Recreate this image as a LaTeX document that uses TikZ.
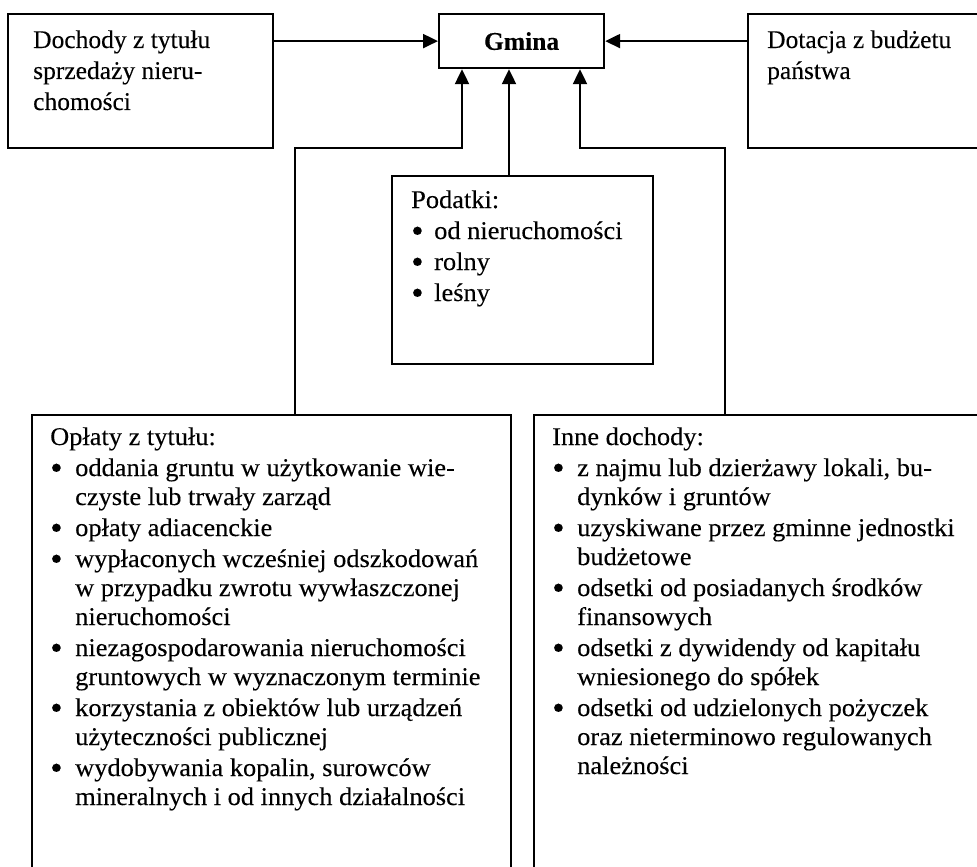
\documentclass[tikz,border=0pt]{standalone}
\usepackage{fontspec}
\setmainfont{Liberation Serif}[FakeBold=0.15]
\newfontfamily\widefont{Liberation Serif}[FakeStretch=1.035,FakeBold=0.15]
\usetikzlibrary{arrows.meta}
\newcommand{\mytb}[2]{\parbox[t]{600pt}{\fontsize{25.5pt}{#1}\selectfont\raggedright #2}}
\newcommand{\mywb}[2]{\parbox[t]{600pt}{\widefont\fontsize{25.5pt}{#1}\selectfont\raggedright #2}}
\newcommand{\mybul}[1]{\makebox[#1][l]{\raisebox{-3.2pt}{\scalebox{1.35}{•}}}}
\begin{document}
\begin{tikzpicture}[x=1pt,y=1pt,
  box/.style={draw, line width=2.2pt, inner sep=0pt, anchor=north west},
  txt/.style={inner sep=0pt, anchor=base west},
  arr/.style={line width=2.2pt, -{Triangle[length=15pt,width=14pt]}}]
\clip (0,0) rectangle (977,-867);
% boxes
\node[box, minimum width=265pt, minimum height=134pt] (L) at (7,-13) {};
\node[box, minimum width=165pt, minimum height=54pt, font=\fontsize{25.5pt}{29pt}\selectfont\bfseries] (G) at (438,-13) {Gmina};
\node[box, minimum width=260pt, minimum height=134pt] (R) at (747,-13) {};
\node[box, minimum width=261pt, minimum height=188pt] (P) at (391,-175) {};
\node[box, minimum width=479pt, minimum height=500pt] (BL) at (31,-414) {};
\node[box, minimum width=470pt, minimum height=500pt] (BR) at (533,-414) {};
% texts
\node[txt] (Lt) at (33,-48) {\mytb{31pt}{Dochody z tytułu\\sprzedaży nieru-\\chomości}};
\node[txt] (Rt) at (767,-48) {\mytb{31pt}{Dotacja z budżetu\\państwa}};
\node[txt] (Pt) at (411,-208) {\mywb{29pt}{Podatki:\\[2pt]
\mybul{23pt}od nieruchomości\\[2pt]
\mybul{23pt}rolny\\[2pt]
\mybul{23pt}leśny}};
\node[txt] (BLt) at (50,-445) {\mywb{29pt}{Opłaty z tytułu:\\[2pt]
\mybul{25pt}oddania gruntu w użytkowanie wie-\\
\hspace*{25pt}czyste lub trwały zarząd\\[2pt]
\mybul{25pt}opłaty adiacenckie\\[2pt]
\mybul{25pt}wypłaconych wcześniej odszkodowań\\
\hspace*{25pt}w przypadku zwrotu wywłaszczonej\\
\hspace*{25pt}nieruchomości\\[2pt]
\mybul{25pt}niezagospodarowania nieruchomości\\
\hspace*{25pt}gruntowych w wyznaczonym terminie\\[2pt]
\mybul{25pt}korzystania z obiektów lub urządzeń\\
\hspace*{25pt}użyteczności publicznej\\[2pt]
\mybul{25pt}wydobywania kopalin, surowców\\
\hspace*{25pt}mineralnych i od innych działalności}};
\node[txt] (BRt) at (552,-445) {\mywb{29pt}{Inne dochody:\\[2pt]
\mybul{25pt}z najmu lub dzierżawy lokali, bu-\\
\hspace*{25pt}dynków i gruntów\\[2pt]
\mybul{25pt}uzyskiwane przez gminne jednostki\\
\hspace*{25pt}budżetowe\\[2pt]
\mybul{25pt}odsetki od posiadanych środków\\
\hspace*{25pt}finansowych\\[2pt]
\mybul{25pt}odsetki z dywidendy od kapitału\\
\hspace*{25pt}wniesionego do spółek\\[2pt]
\mybul{25pt}odsetki od udzielonych pożyczek\\
\hspace*{25pt}oraz nieterminowo regulowanych\\
\hspace*{25pt}należności}};
% connectors
\coordinate (a1) at (295,-148);
\coordinate (a2) at (462,-148);
\coordinate (m) at (509,0);
\coordinate (b1) at (725,-148);
\coordinate (b2) at (580,-148);
\draw[arr] (L.east |- G.west) -- (G.west);
\draw[arr] (R.west |- G.east) -- (G.east);
\draw[arr] (BL.north -| a1) -- (a1) -- (a2) -- (G.south -| a2);
\draw[arr] (P.north -| m) -- (G.south -| m);
\draw[arr] (BR.north -| b1) -- (b1) -- (b2) -- (G.south -| b2);
\end{tikzpicture}
\end{document}
